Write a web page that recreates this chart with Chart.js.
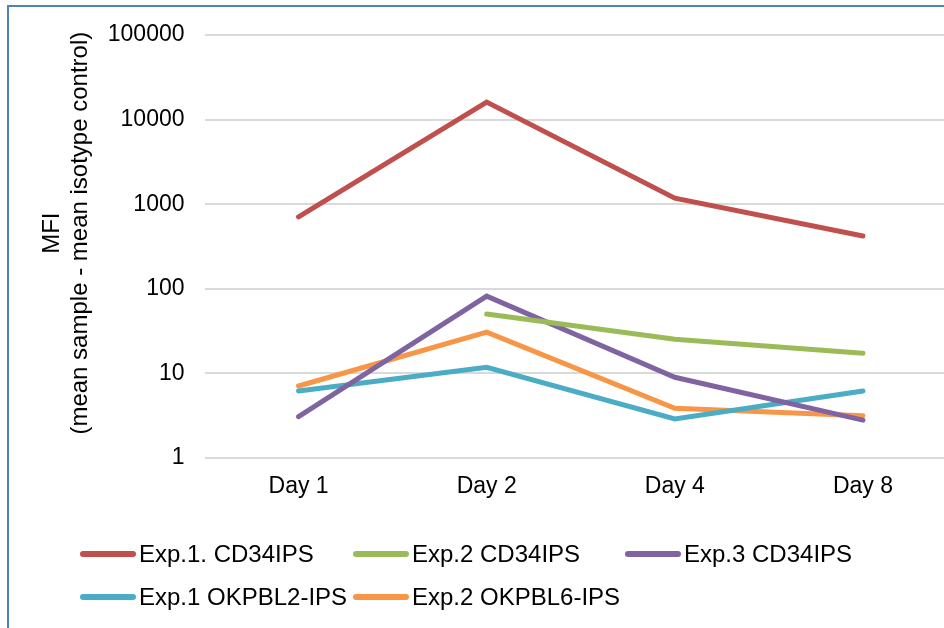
<!DOCTYPE html>
<html>
<head>
<meta charset="utf-8">
<script src="https://cdn.jsdelivr.net/npm/chart.js@4/dist/chart.umd.min.js"></script>
<style>
  body { margin: 0; background: #fff; overflow: hidden; width: 944px; height: 628px; position: relative; }
  #frame { position: absolute; left: 7px; top: 5px; width: 2000px; height: 2000px; border: 2px solid #4F81BD; }
  #chart { position: absolute; left: 0; top: 0; }
</style>
</head>
<body>
<div id="frame"></div>
<canvas id="chart" width="970" height="628"></canvas>
<script>
    // Data
    const days = ['Day 1', 'Day 2', 'Day 4', 'Day 8'];
    const exp1CD34 = [706, 16100, 1180, 421];
    const exp2CD34 = [null, 50.4, 25.3, 17.3];
    const exp3CD34 = [3.08, 82, 9.0, 2.8];
    const exp1OKPBL2 = [6.2, 11.8, 2.89, 6.2];
    const exp2OKPBL6 = [7.1, 30.8, 3.87, 3.16];
    const yTicks = [1, 10, 100, 1000, 10000, 100000];

    const seriesNames = ['Exp.1. CD34IPS', 'Exp.2 CD34IPS', 'Exp.3 CD34IPS', 'Exp.1 OKPBL2-IPS', 'Exp.2 OKPBL6-IPS'];
    const seriesData = [exp1CD34, exp2CD34, exp3CD34, exp1OKPBL2, exp2OKPBL6];
    const seriesColors = ['#C0504D', '#9BBB59', '#8064A2', '#4BACC6', '#F79646'];

    const FONT = 'Liberation Sans, Arial, sans-serif';

    // Legend laid out as a grid (3 columns), like the original
    const gridLegend = {
      id: 'gridLegend',
      afterDraw(chart) {
        const ctx = chart.ctx;
        const colX = [80, 353, 625];
        const rowY = [554, 597];
        ctx.save();
        ctx.font = '24px ' + FONT;
        ctx.textBaseline = 'middle';
        chart.data.datasets.forEach((ds, i) => {
          const x = colX[i % 3];
          const y = rowY[Math.floor(i / 3)];
          ctx.strokeStyle = ds.borderColor;
          ctx.lineWidth = 6;
          ctx.lineCap = 'round';
          ctx.beginPath();
          ctx.moveTo(x + 3, y);
          ctx.lineTo(x + 53, y);
          ctx.stroke();
          ctx.fillStyle = '#000';
          ctx.fillText(ds.label, x + 59, y + 1);
        });
        ctx.restore();
      }
    };

    new Chart(document.getElementById('chart'), {
      type: 'line',
      data: {
        labels: days,
        datasets: seriesNames.map((name, i) => ({
          label: name,
          data: seriesData[i],
          borderColor: seriesColors[i],
          backgroundColor: seriesColors[i],
          borderWidth: 5,
          borderCapStyle: 'round',
          borderJoinStyle: 'miter',
          pointRadius: 0,
          tension: 0,
          spanGaps: false
        }))
      },
      options: {
        responsive: false,
        animation: false,
        layout: { padding: { left: 10, top: 35, right: 13, bottom: 110 } },
        plugins: { legend: { display: false }, tooltip: { enabled: false } },
        scales: {
          x: {
            offset: true,
            grid: { display: false, drawTicks: false, offset: true },
            border: { display: false },
            ticks: { color: '#000', font: { family: FONT, size: 23 }, padding: 15 },
            afterFit(scale) { scale.height = 60; }
          },
          y: {
            type: 'logarithmic',
            min: 1,
            max: 100000,
            afterBuildTicks(scale) { scale.ticks = yTicks.map(v => ({ value: v })); },
            afterFit(scale) { scale.width = 194.5; },
            grid: { color: '#D9D9D9', lineWidth: 2, drawTicks: false },
            border: { display: false },
            ticks: {
              color: '#000',
              font: { family: FONT, size: 23 },
              padding: 20,
              callback: v => String(v)
            },
            title: {
              display: true,
              text: ['    MFI', '    (mean sample - mean isotype control)'],
              color: '#000',
              font: { family: FONT, size: 24, lineHeight: 1.17 },
              padding: { top: 28, bottom: 0 }
            }
          }
        }
      },
      plugins: [gridLegend]
    });
</script>
</body>
</html>
